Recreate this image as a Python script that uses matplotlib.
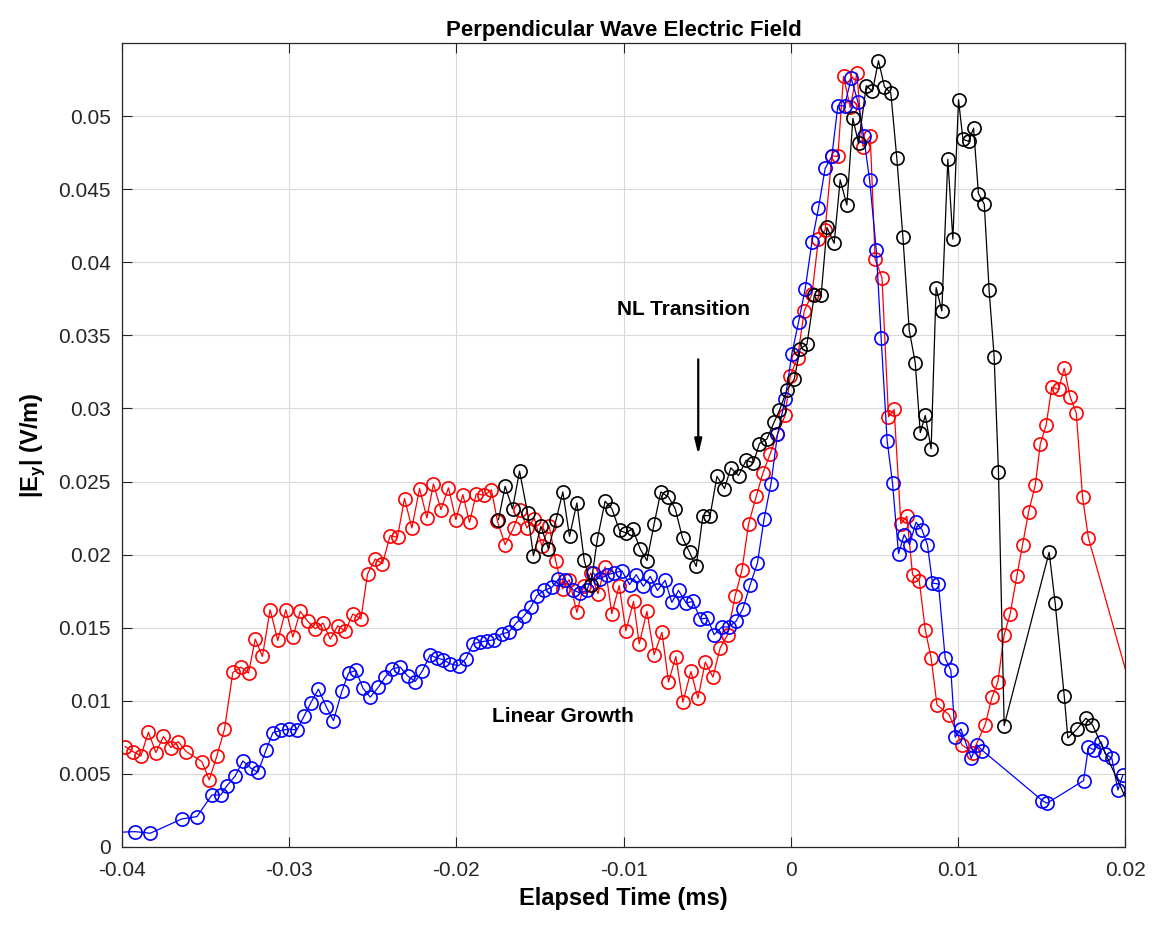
import matplotlib
matplotlib.use("Agg")
import matplotlib.pyplot as plt

plt.rcParams['font.family'] = ['Liberation Sans', 'DejaVu Sans']
plt.rcParams['mathtext.fontset'] = 'custom'
plt.rcParams['mathtext.rm'] = 'Liberation Sans'
plt.rcParams['mathtext.bf'] = 'Liberation Sans:bold'
plt.rcParams['xtick.direction'] = 'in'
plt.rcParams['ytick.direction'] = 'in'

# red trace
red_t = [-0.03981, -0.03935, -0.03887, -0.03842, -0.03797, -0.03752, -0.03708, -0.03664, -0.03616,
         -0.03522, -0.03478, -0.03432, -0.03387, -0.03337, -0.03289, -0.03243, -0.03203, -0.03160,
         -0.03114, -0.03068, -0.03020, -0.02978, -0.02934, -0.02888, -0.02844, -0.02798, -0.02754,
         -0.02709, -0.02665, -0.02619, -0.02571, -0.02531, -0.02485, -0.02442, -0.02396, -0.02352,
         -0.02310, -0.02266, -0.02220, -0.02176, -0.02137, -0.02092, -0.02047, -0.02003, -0.01961,
         -0.01921, -0.01881, -0.01832, -0.01790, -0.01754, -0.01708, -0.01658, -0.01618, -0.01578,
         -0.01533, -0.01488, -0.01445, -0.01405, -0.01365, -0.01325, -0.01279, -0.01239, -0.01195,
         -0.01153, -0.01110, -0.01070, -0.01026, -0.00986, -0.00940, -0.00906, -0.00860, -0.00817,
         -0.00770, -0.00731, -0.00687, -0.00645, -0.00597, -0.00555, -0.00511, -0.00465, -0.00422,
         -0.00378, -0.00332, -0.00292, -0.00252, -0.00206, -0.00166, -0.00123, -0.00079, -0.00033,
         -0.00003, 0.00041, 0.00081, 0.00127, 0.00166, 0.00206, 0.00246, 0.00282, 0.00316, 0.00356,
         0.00396, 0.00432, 0.00476, 0.00505, 0.00546, 0.00585, 0.00619, 0.00659, 0.00695, 0.00729,
         0.00769, 0.00805, 0.00840, 0.00875, 0.00948, 0.01024, 0.01088, 0.01163, 0.01204, 0.01239,
         0.01277, 0.01313, 0.01353, 0.01387, 0.01423, 0.01463, 0.01493, 0.01528, 0.01562, 0.01602,
         0.01636, 0.01672, 0.01708, 0.01746, 0.01781, 0.02060]
red_e = [0.00687, 0.00653, 0.00623, 0.00785, 0.00646, 0.00756, 0.00680, 0.00721, 0.00653,
         0.00584, 0.00459, 0.00625, 0.00806, 0.01194, 0.01231, 0.01190, 0.01422, 0.01304,
         0.01623, 0.01413, 0.01623, 0.01436, 0.01612, 0.01543, 0.01493, 0.01532, 0.01422,
         0.01514, 0.01475, 0.01594, 0.01560, 0.01868, 0.01970, 0.01938, 0.02130, 0.02119,
         0.02384, 0.02183, 0.02452, 0.02251, 0.02484, 0.02308, 0.02457, 0.02240, 0.02411,
         0.02221, 0.02416, 0.02406, 0.02443, 0.02228, 0.02068, 0.02183, 0.02303, 0.02183,
         0.02247, 0.02057, 0.02199, 0.01954, 0.01765, 0.01829, 0.01605, 0.01783, 0.01874,
         0.01733, 0.01916, 0.01596, 0.01788, 0.01479, 0.01680, 0.01390, 0.01612, 0.01315,
         0.01468, 0.01128, 0.01303, 0.00991, 0.01201, 0.01018, 0.01265, 0.01162, 0.01361,
         0.01452, 0.01719, 0.01892, 0.02210, 0.02399, 0.02559, 0.02690, 0.02822, 0.02954,
         0.03221, 0.03347, 0.03667, 0.03781, 0.04158, 0.04221, 0.04728, 0.04724, 0.05272, 0.05059,
         0.05295, 0.04792, 0.04865, 0.04021, 0.03895, 0.02943, 0.02993, 0.02212, 0.02262, 0.01863,
         0.01822, 0.01486, 0.01292, 0.00973, 0.00904, 0.00699, 0.00646, 0.00836, 0.01023, 0.01128,
         0.01452, 0.01596, 0.01856, 0.02068, 0.02292, 0.02475, 0.02758, 0.02886, 0.03146, 0.03130,
         0.03274, 0.03078, 0.02970, 0.02392, 0.02114, 0.00980]

# blue trace
blue_t = [-0.04040, -0.03921, -0.03831, -0.03642, -0.03552, -0.03462, -0.03409, -0.03373, -0.03323,
          -0.03277, -0.03229, -0.03187, -0.03138, -0.03097, -0.03050, -0.03004, -0.02954, -0.02910,
          -0.02870, -0.02825, -0.02779, -0.02735, -0.02685, -0.02645, -0.02601, -0.02559, -0.02515,
          -0.02466, -0.02426, -0.02382, -0.02336, -0.02292, -0.02246, -0.02203, -0.02157, -0.02116,
          -0.02077, -0.02037, -0.01987, -0.01943, -0.01901, -0.01857, -0.01814, -0.01772, -0.01728,
          -0.01688, -0.01642, -0.01598, -0.01554, -0.01518, -0.01475, -0.01429, -0.01389, -0.01349,
          -0.01303, -0.01259, -0.01219, -0.01183, -0.01140, -0.01096, -0.01054, -0.01010, -0.00964,
          -0.00924, -0.00881, -0.00840, -0.00797, -0.00751, -0.00711, -0.00671, -0.00625, -0.00585,
          -0.00541, -0.00498, -0.00458, -0.00412, -0.00372, -0.00328, -0.00286, -0.00242, -0.00199,
          -0.00159, -0.00118, -0.00079, -0.00033, 0.00007, 0.00047, 0.00087, 0.00127, 0.00166,
          0.00206, 0.00246, 0.00282, 0.00322, 0.00362, 0.00402, 0.00436, 0.00472, 0.00512, 0.00541,
          0.00577, 0.00609, 0.00645, 0.00679, 0.00711, 0.00749, 0.00785, 0.00818, 0.00848, 0.00884,
          0.00924, 0.00958, 0.00984, 0.01018, 0.01080, 0.01114, 0.01147, 0.01506, 0.01533, 0.01752,
          0.01781, 0.01816, 0.01856, 0.01882, 0.01921, 0.01957, 0.01987]
blue_e = [0.00100, 0.00105, 0.00094, 0.00192, 0.00208, 0.00356, 0.00356, 0.00418, 0.00486,
          0.00589, 0.00539, 0.00511, 0.00664, 0.00783, 0.00797, 0.00806, 0.00801, 0.00897,
          0.00988, 0.01080, 0.00961, 0.00865, 0.01064, 0.01190, 0.01208, 0.01087, 0.01025,
          0.01094, 0.01162, 0.01219, 0.01231, 0.01171, 0.01132, 0.01205, 0.01315, 0.01292,
          0.01281, 0.01253, 0.01240, 0.01288, 0.01390, 0.01402, 0.01411, 0.01418, 0.01459,
          0.01468, 0.01532, 0.01577, 0.01642, 0.01719, 0.01755, 0.01776, 0.01833, 0.01829,
          0.01760, 0.01737, 0.01755, 0.01875, 0.01833, 0.01863, 0.01875, 0.01890, 0.01795,
          0.01863, 0.01783, 0.01851, 0.01755, 0.01824, 0.01673, 0.01755, 0.01669, 0.01680,
          0.01560, 0.01566, 0.01452, 0.01505, 0.01505, 0.01543, 0.01630, 0.01795, 0.01943,
          0.02245, 0.02486, 0.02822, 0.03062, 0.03375, 0.03591, 0.03820, 0.04139, 0.04370,
          0.04642, 0.04724, 0.05071, 0.05071, 0.05258, 0.05098, 0.04865, 0.04564, 0.04084, 0.03484,
          0.02778, 0.02491, 0.02007, 0.02137, 0.02068, 0.02221, 0.02171, 0.02068, 0.01806, 0.01799,
          0.01292, 0.01208, 0.00751, 0.00808, 0.00607, 0.00699, 0.00660, 0.00317, 0.00299, 0.00454,
          0.00683, 0.00664, 0.00721, 0.00637, 0.00607, 0.00390, 0.00493]

# black trace
black_t = [-0.01748, -0.01708, -0.01664, -0.01622, -0.01574, -0.01539, -0.01494, -0.01449, -0.01403,
           -0.01363, -0.01323, -0.01279, -0.01235, -0.01195, -0.01156, -0.01110, -0.01070, -0.01024,
           -0.00986, -0.00946, -0.00900, -0.00860, -0.00817, -0.00777, -0.00731, -0.00691, -0.00647,
           -0.00605, -0.00565, -0.00525, -0.00482, -0.00441, -0.00396, -0.00358, -0.00312, -0.00266,
           -0.00223, -0.00187, -0.00142, -0.00099, -0.00067, -0.00023, 0.00021, 0.00057, 0.00097,
           0.00141, 0.00182, 0.00217, 0.00260, 0.00296, 0.00336, 0.00372, 0.00406, 0.00452, 0.00489,
           0.00525, 0.00561, 0.00599, 0.00635, 0.00671, 0.00709, 0.00745, 0.00775, 0.00805, 0.00840,
           0.00870, 0.00904, 0.00940, 0.00970, 0.01004, 0.01030, 0.01064, 0.01094, 0.01123, 0.01158,
           0.01187, 0.01217, 0.01243, 0.01277, 0.01546, 0.01582, 0.01636, 0.01658, 0.01712, 0.01766,
           0.01805, 0.02050]
black_e = [0.02240, 0.02468, 0.02313, 0.02571, 0.02286, 0.01993, 0.02194, 0.02039, 0.02240,
           0.02429, 0.02125, 0.02354, 0.01961, 0.01795, 0.02110, 0.02365, 0.02315, 0.02166,
           0.02149, 0.02178, 0.02039, 0.01959, 0.02210, 0.02429, 0.02395, 0.02315, 0.02114,
           0.02016, 0.01920, 0.02267, 0.02267, 0.02536, 0.02452, 0.02594, 0.02541, 0.02646,
           0.02628, 0.02760, 0.02792, 0.02906, 0.02988, 0.03125, 0.03199, 0.03409, 0.03438,
           0.03774, 0.03774, 0.04238, 0.04130, 0.04564, 0.04392, 0.04984, 0.04813, 0.05208, 0.05169,
           0.05379, 0.05201, 0.05158, 0.04710, 0.04176, 0.03536, 0.03313, 0.02834, 0.02952, 0.02724,
           0.03827, 0.03667, 0.04705, 0.04158, 0.05112, 0.04842, 0.04827, 0.04918, 0.04470, 0.04397,
           0.03808, 0.03354, 0.02564, 0.00831, 0.02016, 0.01669, 0.01036, 0.00745, 0.00806, 0.00881,
           0.00836, 0.00219]

xticks = [-0.04, -0.03, -0.02, -0.01, 0, 0.01, 0.02]
xticklabels = ['-0.04', '-0.03', '-0.02', '-0.01', '0', '0.01', '0.02']
yticks = [0, 0.005, 0.01, 0.015, 0.02, 0.025, 0.03, 0.035, 0.04, 0.045, 0.05]
yticklabels = ['0', '0.005', '0.01', '0.015', '0.02', '0.025', '0.03', '0.035', '0.04', '0.045', '0.05']

fig = plt.figure(figsize=(11.52, 9.27), dpi=100)
ax = fig.add_axes([0.1059, 0.0863, 0.8707, 0.8673])

style = dict(marker='o', markerfacecolor='none', markersize=9.5, markeredgewidth=1.2, linewidth=0.9)
ax.plot(red_t, red_e, color='#ff0000', **style)
ax.plot(blue_t, blue_e, color='#0000ff', **style)
ax.plot(black_t, black_e, color='#000000', **style)

ax.set_xlim(-0.04, 0.02)
ax.set_ylim(0, 0.055)
ax.set_xticks(xticks)
ax.set_xticklabels(xticklabels)
ax.set_yticks(yticks)
ax.set_yticklabels(yticklabels)
ax.tick_params(axis='both', labelsize=15, colors='#262626', length=7, width=0.8,
               top=True, right=True)
ax.tick_params(axis='x', pad=10)
ax.tick_params(axis='y', pad=8)
ax.grid(True, color='#d9d9d9', linewidth=0.8)
ax.set_axisbelow(True)
for s in ax.spines.values():
    s.set_color('#262626')
    s.set_linewidth(0.9)

ax.set_title('Perpendicular Wave Electric Field', fontsize=16, fontweight='bold', pad=5)
ax.set_xlabel('Elapsed Time (ms)', fontsize=17, fontweight='bold', labelpad=5)
ax.set_ylabel(r'|E$_\mathbf{y}$| (V/m)', fontsize=17, fontweight='bold', labelpad=8)

ax.text(-0.00643, 0.03678, 'NL Transition', fontsize=15, fontweight='bold',
        ha='center', va='center')
ax.text(-0.01361, 0.0089, 'Linear Growth', fontsize=15, fontweight='bold',
        ha='center', va='center')
ax.annotate('', xy=(-0.00553, 0.02685), xytext=(-0.00553, 0.03336),
            arrowprops=dict(arrowstyle='-|>,head_length=0.9,head_width=0.22',
                            color='k', lw=1.6, shrinkA=0, shrinkB=0))

fig.savefig('out.png', dpi=100)
